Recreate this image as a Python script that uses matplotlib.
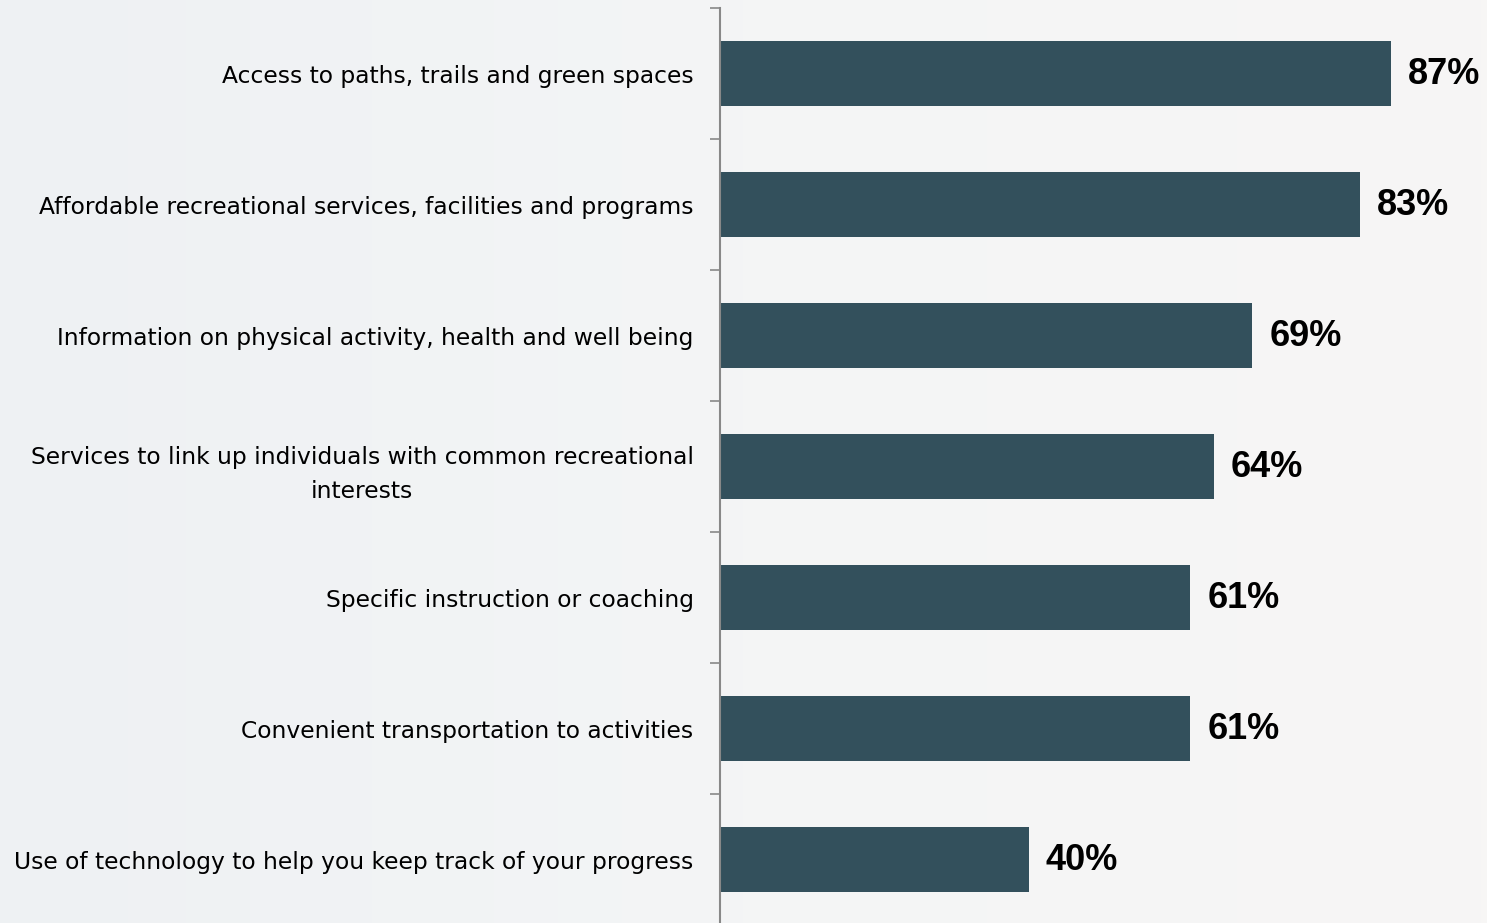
import numpy as np
import matplotlib
matplotlib.use("Agg")
from matplotlib import pyplot as plt

labels = [
    "Access to paths, trails and green spaces",
    "Affordable recreational services, facilities and programs",
    "Information on physical activity, health and well being",
    "Services to link up individuals with common recreational\ninterests",
    "Specific instruction or coaching",
    "Convenient transportation to activities",
    "Use of technology to help you keep track of your progress",
]
values = [87, 83, 69, 64, 61, 61, 40]

fig = plt.figure(figsize=(14.87, 9.23), dpi=100)

# soft background gradient
bg = fig.add_axes([0, 0, 1, 1], zorder=-1)
grad = np.linspace(0, 1, 256).reshape(1, -1)
bg.imshow(grad, aspect="auto", cmap=matplotlib.colors.LinearSegmentedColormap.from_list(
    "bg", ["#eef1f3", "#f4f5f6", "#f7f6f5"]), extent=[0, 1, 0, 1])
bg.axis("off")

ax = fig.add_axes([720 / 1487, -2 / 923, 767 / 1487, 917 / 923])
ax.patch.set_alpha(0)
y = np.arange(len(labels))
ax.barh(y, values, height=0.5, color="#33505c")
ax.set_ylim(len(labels) - 0.5, -0.5)
ax.set_xlim(0, 767 / 7.713)

for yi, v in zip(y, values):
    ax.text(v + 2.2, yi + 0.01, f"{v}%", va="center", ha="left", fontsize=26,
            fontweight="bold", family="Liberation Sans", color="black")

ax.set_yticks(np.arange(-0.5, len(labels) + 0.5, 1))
ax.set_yticklabels([])
ax.set_yticks(y, minor=True)
ax.set_yticklabels(labels, minor=True, fontsize=16.8, family="DejaVu Sans",
                   multialignment="center", linespacing=1.6)
ax.tick_params(axis="y", which="major", length=7, width=1.2, color="#888888", direction="out")
ax.tick_params(axis="y", which="minor", length=0, pad=19)
ax.set_xticks([])
for s in ["top", "right", "bottom"]:
    ax.spines[s].set_visible(False)
ax.spines["left"].set_color("#888888")
ax.spines["left"].set_linewidth(1.5)

fig.savefig("out.png", dpi=100)
